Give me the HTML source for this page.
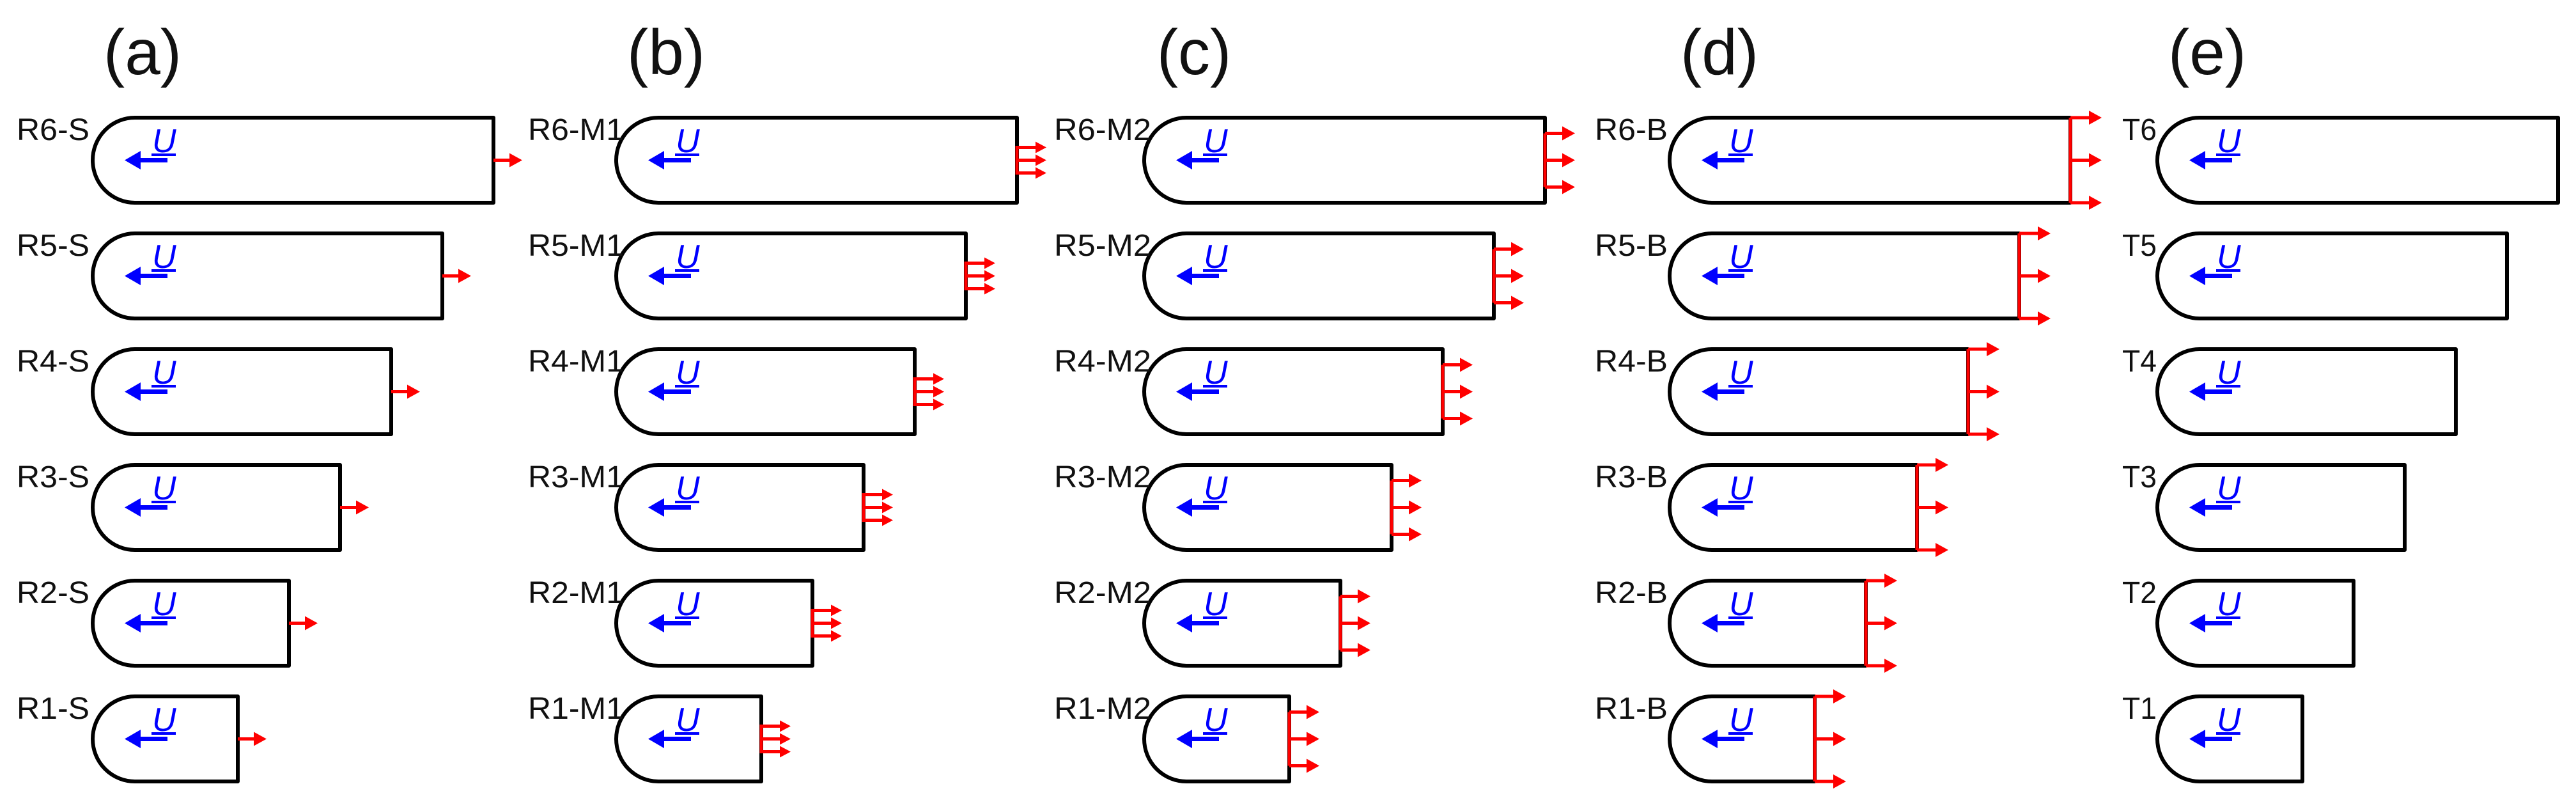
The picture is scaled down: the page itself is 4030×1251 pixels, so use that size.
<!DOCTYPE html>
<html><head><meta charset="utf-8"><style>
html,body{margin:0;padding:0;background:#fff}
svg{display:block}
.bx{fill:none;stroke:#000;stroke-width:6;stroke-linejoin:round}
.lb{font-family:"Liberation Sans",sans-serif;font-size:48px;fill:#111}
.tt{font-family:"Liberation Sans",sans-serif;font-size:100px;fill:#111}
.u{font-family:"Liberation Sans",sans-serif;font-size:52px;font-style:italic;fill:#00f}
.ul{stroke:#00f;stroke-width:4}
.bl{stroke:#00f;stroke-width:7}
.bh{fill:#00f}
.rl{stroke:#f00;stroke-width:5;fill:none}
.rh{fill:#f00}
</style></head><body>
<svg width="4030" height="1251" viewBox="0 0 4030 1251" xmlns="http://www.w3.org/2000/svg">
<defs>
<g id="bl"><line x1="117" y1="66.5" x2="70" y2="66.5" class="bl"/><path d="M50 66.5L75 52L75 81Z" class="bh"/><line x1="92" y1="58" x2="130" y2="58" class="ul"/></g>
</defs>
<text class="tt" x="223" y="116" text-anchor="middle">(a)</text>
<text class="tt" x="1042" y="116" text-anchor="middle">(b)</text>
<text class="tt" x="1868" y="116" text-anchor="middle">(c)</text>
<text class="tt" x="2690" y="116" text-anchor="middle">(d)</text>
<text class="tt" x="3453" y="116" text-anchor="middle">(e)</text>

<!-- Column a -->
<g transform="translate(145,184)"><path class="bx" d="M66 0H627V133H66A66 66.5 0 0 1 66 0Z"/><use href="#bl"/><text class="u" x="93" y="54">U</text><text class="lb" x="-119" y="35" textLength="114" lengthAdjust="spacingAndGlyphs">R6-S</text><path class="rl" d="M627 66.5h26"/><path class="rh" d="M672 66.5l-20 -11v22z"/></g>
<g transform="translate(145,365)"><path class="bx" d="M66 0H547V133H66A66 66.5 0 0 1 66 0Z"/><use href="#bl"/><text class="u" x="93" y="54">U</text><text class="lb" x="-119" y="35" textLength="114" lengthAdjust="spacingAndGlyphs">R5-S</text><path class="rl" d="M547 66.5h26"/><path class="rh" d="M592 66.5l-20 -11v22z"/></g>
<g transform="translate(145,546)"><path class="bx" d="M66 0H467V133H66A66 66.5 0 0 1 66 0Z"/><use href="#bl"/><text class="u" x="93" y="54">U</text><text class="lb" x="-119" y="35" textLength="114" lengthAdjust="spacingAndGlyphs">R4-S</text><path class="rl" d="M467 66.5h26"/><path class="rh" d="M512 66.5l-20 -11v22z"/></g>
<g transform="translate(145,727)"><path class="bx" d="M66 0H387V133H66A66 66.5 0 0 1 66 0Z"/><use href="#bl"/><text class="u" x="93" y="54">U</text><text class="lb" x="-119" y="35" textLength="114" lengthAdjust="spacingAndGlyphs">R3-S</text><path class="rl" d="M387 66.5h26"/><path class="rh" d="M432 66.5l-20 -11v22z"/></g>
<g transform="translate(145,908)"><path class="bx" d="M66 0H307V133H66A66 66.5 0 0 1 66 0Z"/><use href="#bl"/><text class="u" x="93" y="54">U</text><text class="lb" x="-119" y="35" textLength="114" lengthAdjust="spacingAndGlyphs">R2-S</text><path class="rl" d="M307 66.5h26"/><path class="rh" d="M352 66.5l-20 -11v22z"/></g>
<g transform="translate(145,1089)"><path class="bx" d="M66 0H227V133H66A66 66.5 0 0 1 66 0Z"/><use href="#bl"/><text class="u" x="93" y="54">U</text><text class="lb" x="-119" y="35" textLength="114" lengthAdjust="spacingAndGlyphs">R1-S</text><path class="rl" d="M227 66.5h26"/><path class="rh" d="M272 66.5l-20 -11v22z"/></g>

<!-- Column b -->
<g transform="translate(964,184)"><path class="bx" d="M66 0H627V133H66A66 66.5 0 0 1 66 0Z"/><use href="#bl"/><text class="u" x="93" y="54">U</text><text class="lb" x="-138" y="35" textLength="150" lengthAdjust="spacingAndGlyphs">R6-M1</text><path class="rl" d="M627 44V89M627 46.5h30M627 66.5h30M627 86.5h30"/><path class="rh" d="M673 46.5l-17 -9v18zM673 66.5l-17 -9v18zM673 86.5l-17 -9v18z"/></g>
<g transform="translate(964,365)"><path class="bx" d="M66 0H547V133H66A66 66.5 0 0 1 66 0Z"/><use href="#bl"/><text class="u" x="93" y="54">U</text><text class="lb" x="-138" y="35" textLength="150" lengthAdjust="spacingAndGlyphs">R5-M1</text><path class="rl" d="M547 44V89M547 46.5h30M547 66.5h30M547 86.5h30"/><path class="rh" d="M593 46.5l-17 -9v18zM593 66.5l-17 -9v18zM593 86.5l-17 -9v18z"/></g>
<g transform="translate(964,546)"><path class="bx" d="M66 0H467V133H66A66 66.5 0 0 1 66 0Z"/><use href="#bl"/><text class="u" x="93" y="54">U</text><text class="lb" x="-138" y="35" textLength="150" lengthAdjust="spacingAndGlyphs">R4-M1</text><path class="rl" d="M467 44V89M467 46.5h30M467 66.5h30M467 86.5h30"/><path class="rh" d="M513 46.5l-17 -9v18zM513 66.5l-17 -9v18zM513 86.5l-17 -9v18z"/></g>
<g transform="translate(964,727)"><path class="bx" d="M66 0H387V133H66A66 66.5 0 0 1 66 0Z"/><use href="#bl"/><text class="u" x="93" y="54">U</text><text class="lb" x="-138" y="35" textLength="150" lengthAdjust="spacingAndGlyphs">R3-M1</text><path class="rl" d="M387 44V89M387 46.5h30M387 66.5h30M387 86.5h30"/><path class="rh" d="M433 46.5l-17 -9v18zM433 66.5l-17 -9v18zM433 86.5l-17 -9v18z"/></g>
<g transform="translate(964,908)"><path class="bx" d="M66 0H307V133H66A66 66.5 0 0 1 66 0Z"/><use href="#bl"/><text class="u" x="93" y="54">U</text><text class="lb" x="-138" y="35" textLength="150" lengthAdjust="spacingAndGlyphs">R2-M1</text><path class="rl" d="M307 44V89M307 46.5h30M307 66.5h30M307 86.5h30"/><path class="rh" d="M353 46.5l-17 -9v18zM353 66.5l-17 -9v18zM353 86.5l-17 -9v18z"/></g>
<g transform="translate(964,1089)"><path class="bx" d="M66 0H227V133H66A66 66.5 0 0 1 66 0Z"/><use href="#bl"/><text class="u" x="93" y="54">U</text><text class="lb" x="-138" y="35" textLength="150" lengthAdjust="spacingAndGlyphs">R1-M1</text><path class="rl" d="M227 44V89M227 46.5h30M227 66.5h30M227 86.5h30"/><path class="rh" d="M273 46.5l-17 -9v18zM273 66.5l-17 -9v18zM273 86.5l-17 -9v18z"/></g>

<!-- Column c -->
<g transform="translate(1790,184)"><path class="bx" d="M66 0H627V133H66A66 66.5 0 0 1 66 0Z"/><use href="#bl"/><text class="u" x="93" y="54">U</text><text class="lb" x="-141" y="35" textLength="152" lengthAdjust="spacingAndGlyphs">R6-M2</text><path class="rl" d="M627 24.5V108.5M627 24.5h28M627 66.5h28M627 108.5h28"/><path class="rh" d="M674 24.5l-20 -11v22zM674 66.5l-20 -11v22zM674 108.5l-20 -11v22z"/></g>
<g transform="translate(1790,365)"><path class="bx" d="M66 0H547V133H66A66 66.5 0 0 1 66 0Z"/><use href="#bl"/><text class="u" x="93" y="54">U</text><text class="lb" x="-141" y="35" textLength="152" lengthAdjust="spacingAndGlyphs">R5-M2</text><path class="rl" d="M547 24.5V108.5M547 24.5h28M547 66.5h28M547 108.5h28"/><path class="rh" d="M594 24.5l-20 -11v22zM594 66.5l-20 -11v22zM594 108.5l-20 -11v22z"/></g>
<g transform="translate(1790,546)"><path class="bx" d="M66 0H467V133H66A66 66.5 0 0 1 66 0Z"/><use href="#bl"/><text class="u" x="93" y="54">U</text><text class="lb" x="-141" y="35" textLength="152" lengthAdjust="spacingAndGlyphs">R4-M2</text><path class="rl" d="M467 24.5V108.5M467 24.5h28M467 66.5h28M467 108.5h28"/><path class="rh" d="M514 24.5l-20 -11v22zM514 66.5l-20 -11v22zM514 108.5l-20 -11v22z"/></g>
<g transform="translate(1790,727)"><path class="bx" d="M66 0H387V133H66A66 66.5 0 0 1 66 0Z"/><use href="#bl"/><text class="u" x="93" y="54">U</text><text class="lb" x="-141" y="35" textLength="152" lengthAdjust="spacingAndGlyphs">R3-M2</text><path class="rl" d="M387 24.5V108.5M387 24.5h28M387 66.5h28M387 108.5h28"/><path class="rh" d="M434 24.5l-20 -11v22zM434 66.5l-20 -11v22zM434 108.5l-20 -11v22z"/></g>
<g transform="translate(1790,908)"><path class="bx" d="M66 0H307V133H66A66 66.5 0 0 1 66 0Z"/><use href="#bl"/><text class="u" x="93" y="54">U</text><text class="lb" x="-141" y="35" textLength="152" lengthAdjust="spacingAndGlyphs">R2-M2</text><path class="rl" d="M307 24.5V108.5M307 24.5h28M307 66.5h28M307 108.5h28"/><path class="rh" d="M354 24.5l-20 -11v22zM354 66.5l-20 -11v22zM354 108.5l-20 -11v22z"/></g>
<g transform="translate(1790,1089)"><path class="bx" d="M66 0H227V133H66A66 66.5 0 0 1 66 0Z"/><use href="#bl"/><text class="u" x="93" y="54">U</text><text class="lb" x="-141" y="35" textLength="152" lengthAdjust="spacingAndGlyphs">R1-M2</text><path class="rl" d="M227 24.5V108.5M227 24.5h28M227 66.5h28M227 108.5h28"/><path class="rh" d="M274 24.5l-20 -11v22zM274 66.5l-20 -11v22zM274 108.5l-20 -11v22z"/></g>

<!-- Column d -->
<g transform="translate(2612,184)"><path class="bx" d="M66 0H627V133H66A66 66.5 0 0 1 66 0Z"/><use href="#bl"/><text class="u" x="93" y="54">U</text><text class="lb" x="-117" y="35" textLength="114" lengthAdjust="spacingAndGlyphs">R6-B</text><path class="rl" d="M627 0V133M627 0h30M627 66.5h30M627 133h30"/><path class="rh" d="M676 0l-20 -11v22zM676 66.5l-20 -11v22zM676 133l-20 -11v22z"/></g>
<g transform="translate(2612,365)"><path class="bx" d="M66 0H547V133H66A66 66.5 0 0 1 66 0Z"/><use href="#bl"/><text class="u" x="93" y="54">U</text><text class="lb" x="-117" y="35" textLength="114" lengthAdjust="spacingAndGlyphs">R5-B</text><path class="rl" d="M547 0V133M547 0h30M547 66.5h30M547 133h30"/><path class="rh" d="M596 0l-20 -11v22zM596 66.5l-20 -11v22zM596 133l-20 -11v22z"/></g>
<g transform="translate(2612,546)"><path class="bx" d="M66 0H467V133H66A66 66.5 0 0 1 66 0Z"/><use href="#bl"/><text class="u" x="93" y="54">U</text><text class="lb" x="-117" y="35" textLength="114" lengthAdjust="spacingAndGlyphs">R4-B</text><path class="rl" d="M467 0V133M467 0h30M467 66.5h30M467 133h30"/><path class="rh" d="M516 0l-20 -11v22zM516 66.5l-20 -11v22zM516 133l-20 -11v22z"/></g>
<g transform="translate(2612,727)"><path class="bx" d="M66 0H387V133H66A66 66.5 0 0 1 66 0Z"/><use href="#bl"/><text class="u" x="93" y="54">U</text><text class="lb" x="-117" y="35" textLength="114" lengthAdjust="spacingAndGlyphs">R3-B</text><path class="rl" d="M387 0V133M387 0h30M387 66.5h30M387 133h30"/><path class="rh" d="M436 0l-20 -11v22zM436 66.5l-20 -11v22zM436 133l-20 -11v22z"/></g>
<g transform="translate(2612,908)"><path class="bx" d="M66 0H307V133H66A66 66.5 0 0 1 66 0Z"/><use href="#bl"/><text class="u" x="93" y="54">U</text><text class="lb" x="-117" y="35" textLength="114" lengthAdjust="spacingAndGlyphs">R2-B</text><path class="rl" d="M307 0V133M307 0h30M307 66.5h30M307 133h30"/><path class="rh" d="M356 0l-20 -11v22zM356 66.5l-20 -11v22zM356 133l-20 -11v22z"/></g>
<g transform="translate(2612,1089)"><path class="bx" d="M66 0H227V133H66A66 66.5 0 0 1 66 0Z"/><use href="#bl"/><text class="u" x="93" y="54">U</text><text class="lb" x="-117" y="35" textLength="114" lengthAdjust="spacingAndGlyphs">R1-B</text><path class="rl" d="M227 0V133M227 0h30M227 66.5h30M227 133h30"/><path class="rh" d="M276 0l-20 -11v22zM276 66.5l-20 -11v22zM276 133l-20 -11v22z"/></g>

<!-- Column e -->
<g transform="translate(3375,184)"><path class="bx" d="M66 0H627V133H66A66 66.5 0 0 1 66 0Z"/><use href="#bl"/><text class="u" x="93" y="54">U</text><text class="lb" x="-55" y="35" textLength="54" lengthAdjust="spacingAndGlyphs">T6</text></g>
<g transform="translate(3375,365)"><path class="bx" d="M66 0H547V133H66A66 66.5 0 0 1 66 0Z"/><use href="#bl"/><text class="u" x="93" y="54">U</text><text class="lb" x="-55" y="35" textLength="54" lengthAdjust="spacingAndGlyphs">T5</text></g>
<g transform="translate(3375,546)"><path class="bx" d="M66 0H467V133H66A66 66.5 0 0 1 66 0Z"/><use href="#bl"/><text class="u" x="93" y="54">U</text><text class="lb" x="-55" y="35" textLength="54" lengthAdjust="spacingAndGlyphs">T4</text></g>
<g transform="translate(3375,727)"><path class="bx" d="M66 0H387V133H66A66 66.5 0 0 1 66 0Z"/><use href="#bl"/><text class="u" x="93" y="54">U</text><text class="lb" x="-55" y="35" textLength="54" lengthAdjust="spacingAndGlyphs">T3</text></g>
<g transform="translate(3375,908)"><path class="bx" d="M66 0H307V133H66A66 66.5 0 0 1 66 0Z"/><use href="#bl"/><text class="u" x="93" y="54">U</text><text class="lb" x="-55" y="35" textLength="54" lengthAdjust="spacingAndGlyphs">T2</text></g>
<g transform="translate(3375,1089)"><path class="bx" d="M66 0H227V133H66A66 66.5 0 0 1 66 0Z"/><use href="#bl"/><text class="u" x="93" y="54">U</text><text class="lb" x="-55" y="35" textLength="54" lengthAdjust="spacingAndGlyphs">T1</text></g>
</svg>
</body></html>
